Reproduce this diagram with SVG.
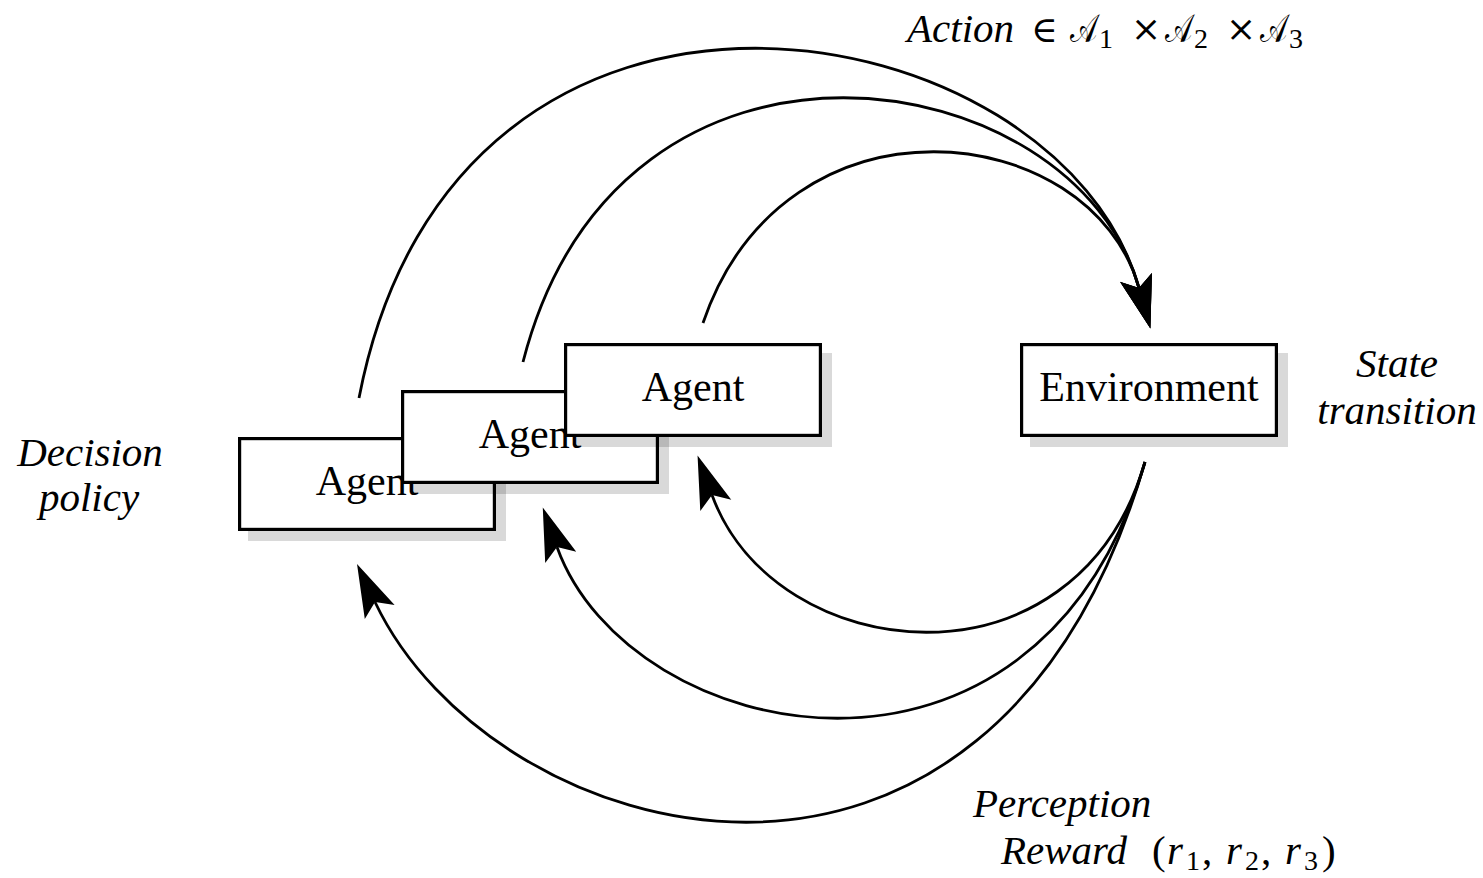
<svg xmlns="http://www.w3.org/2000/svg" width="1483" height="878" viewBox="0 0 1483 878">
  <style>
    .box { fill: #ffffff; stroke: #000000; stroke-width: 3.2; }
    .shadow { fill: #000000; fill-opacity: 0.15; stroke: none; }
    .label { font-family: "Liberation Serif", "DejaVu Serif", serif; font-size: 42px; fill: #000000; text-anchor: middle; }
    .it { font-family: "Liberation Serif", "DejaVu Serif", serif; font-style: italic; font-size: 41px; fill: #000000; }
    .rm { font-family: "Liberation Serif", "DejaVu Serif", serif; font-size: 41px; fill: #000000; }
    .op { font-family: "DejaVu Serif", "Liberation Serif", serif; font-size: 36px; fill: #000000; }
    .cal { font-family: "DejaVu Sans", "DejaVu Serif", "Noto Sans", serif; font-size: 40px; fill: #000000; }
    .sub { font-family: "Liberation Serif", "DejaVu Serif", serif; font-size: 28px; fill: #000000; }
    .flow { fill: none; stroke: #000000; stroke-width: 2.8; marker-end: url(#stealth); }
  </style>
  <defs>
    <marker id="stealth" markerUnits="userSpaceOnUse" markerWidth="80" markerHeight="80" refX="0" refY="0" orient="auto" overflow="visible">
      <path d="M42,0 L-11,-16.5 L0,0 L-11,16.5 Z" fill="#000000"/>
    </marker>
  </defs>

  <!-- agents, back to front -->
  <g id="agent-1">
    <rect class="shadow" x="248" y="447" width="258" height="94"/>
    <rect class="box" x="239.6" y="438.6" width="254.8" height="90.8"/>
    <text class="label" x="367" y="495">Agent</text>
  </g>
  <g id="agent-2">
    <rect class="shadow" x="411" y="400" width="258" height="94"/>
    <rect class="box" x="402.6" y="391.6" width="254.8" height="90.8"/>
    <text class="label" x="530" y="448">Agent</text>
  </g>
  <g id="agent-3">
    <rect class="shadow" x="574" y="353" width="258" height="94"/>
    <rect class="box" x="565.6" y="344.6" width="254.8" height="90.8"/>
    <text class="label" x="693" y="401">Agent</text>
  </g>

  <g id="environment">
    <rect class="shadow" x="1030" y="353" width="258" height="94"/>
    <rect class="box" x="1021.6" y="344.6" width="254.8" height="90.8"/>
    <text class="label" x="1149" y="401">Environment</text>
  </g>

  <!-- actions: agents to environment; perceptions: environment back to agents -->
  <g id="connectors">
    <path class="flow" d="M359,398 C456,-105 1059,5 1139,288"/>
    <path class="flow" d="M523,362 C620,-15 1075,59 1139,288"/>
    <path class="flow" d="M703,323 C785,83 1091,118 1139,288"/>
    <path class="flow" d="M1145,462 C1076,700 775,667 712,495"/>
    <path class="flow" d="M1145,462 C1037,832 629,747 557,547"/>
    <path class="flow" d="M1145,462 C991,989 492,849 375,602"/>
  </g>

  <g id="action-label">
    <text class="it" x="907" y="42">Action</text>
    <text class="op" x="1031" y="42">∈</text>
    <text class="cal" transform="translate(1070,42) scale(0.72,1)">𝒜</text>
    <text class="sub" x="1099" y="48">1</text>
    <text class="op" x="1131" y="41">×</text>
    <text class="cal" transform="translate(1165,42) scale(0.72,1)">𝒜</text>
    <text class="sub" x="1194" y="48">2</text>
    <text class="op" x="1226" y="41">×</text>
    <text class="cal" transform="translate(1260,42) scale(0.72,1)">𝒜</text>
    <text class="sub" x="1289" y="48">3</text>
  </g>

  <g id="state-label">
    <text class="it" x="1397" y="377" text-anchor="middle">State</text>
    <text class="it" x="1397" y="424" text-anchor="middle">transition</text>
  </g>

  <g id="policy-label">
    <text class="it" x="90" y="466" text-anchor="middle">Decision</text>
    <text class="it" x="89" y="511" text-anchor="middle">policy</text>
  </g>

  <g id="perception-label">
    <text class="it" x="973" y="817">Perception</text>
    <text class="it" x="1001" y="864">Reward</text>
    <text class="rm" x="1152" y="864">(</text>
    <text class="it" x="1167" y="864">r</text>
    <text class="sub" x="1186" y="870">1</text>
    <text class="rm" x="1202" y="864">,</text>
    <text class="it" x="1226" y="864">r</text>
    <text class="sub" x="1245" y="870">2</text>
    <text class="rm" x="1261" y="864">,</text>
    <text class="it" x="1285" y="864">r</text>
    <text class="sub" x="1304" y="870">3</text>
    <text class="rm" x="1322" y="864">)</text>
  </g>
</svg>
